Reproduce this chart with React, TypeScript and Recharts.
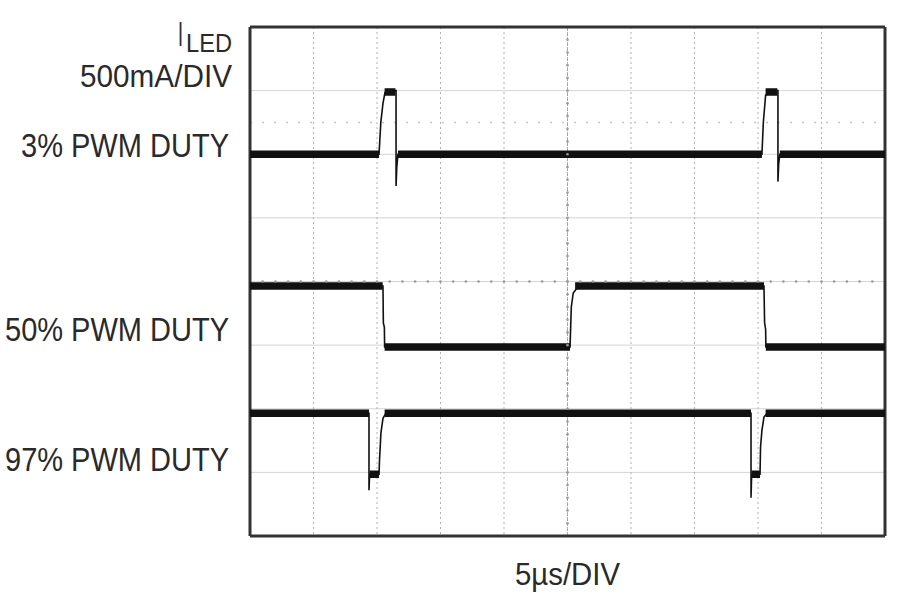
import { LineChart, Line, XAxis, YAxis, CartesianGrid, ReferenceLine, ReferenceDot } from "recharts";

// time in µs (5µs/DIV, 10 divisions), amplitude in screen divisions (8 divisions)
const timeTicks = [0, 5, 10, 15, 20, 25, 30, 35, 40, 45, 50];
const divTicks = [0, 1, 2, 3, 4, 5, 6, 7, 8];

// thin trace (edges + levels)
const threePctWave = [
  [0, 6], [10.16, 6], [10.3, 6.5], [10.47, 6.8], [10.63, 6.97], [11.45, 7.0],
  [11.5, 7.0], [11.5, 5.5], [11.56, 5.8], [11.65, 6], [40.31, 6], [40.42, 6.5],
  [40.6, 6.93], [41.5, 7.0], [41.57, 7.0], [41.57, 5.57], [41.63, 5.85], [41.72, 6], [50, 6],
];
const fiftyPctWave = [
  [0, 3.93], [10.47, 3.93], [10.5, 3.35], [10.58, 3.28], [10.6, 2.97], [25.2, 2.97],
  [25.3, 3.6], [25.45, 3.82], [25.8, 3.91], [26.2, 3.93], [40.47, 3.93], [40.52, 3.35],
  [40.6, 3.25], [40.62, 2.97], [50, 2.97],
];
const ninetySevenWave = [
  [0, 1.93], [9.37, 1.93], [9.37, 0.72], [9.42, 0.97], [10.16, 0.97], [10.2, 1.2],
  [10.31, 1.62], [10.47, 1.85], [10.7, 1.93], [39.45, 1.93], [39.45, 0.6], [39.5, 0.97],
  [40.16, 0.97], [40.2, 1.4], [40.31, 1.66], [40.47, 1.87], [40.71, 1.93], [50, 1.93],
];

// noisy (thick) plateaus: [start µs, end µs, level]
const threePctFlat = [[0, 10.16, 6], [10.6, 11.45, 6.98], [11.65, 40.31, 6], [40.6, 41.52, 6.98], [41.72, 50, 6]];
const fiftyPctFlat = [[0, 10.45, 3.93], [10.6, 25.2, 2.97], [25.6, 40.47, 3.93], [40.62, 50, 2.97]];
const ninetySevenFlat = [[0, 9.37, 1.93], [9.42, 10.16, 0.97], [10.6, 39.45, 1.93], [39.5, 40.16, 0.97], [40.6, 50, 1.93]];

const groundMarker = 6.5;
const minorTimes = Array.from({ length: 49 }, (_, i) => i + 1);
const minorDivs = Array.from({ length: 39 }, (_, i) => Math.round((i + 1) * 0.2 * 10) / 10);

const toPoints = (pts: number[][]) => pts.map(([t, v]) => ({ t, v }));
const toSegments = (segs: number[][]) =>
  segs.flatMap(([a, b, v]) => [{ t: a, v }, { t: b, v }, { t: b, v: null }]);

const labels = [
  { text: "500mA/DIV", x: 232, y: 87, w: 152, size: 32 },
  { text: "3% PWM DUTY", x: 229, y: 157, w: 208, size: 34 },
  { text: "50% PWM DUTY", x: 229, y: 341, w: 224, size: 34 },
  { text: "97% PWM DUTY", x: 229, y: 471, w: 224, size: 34 },
];

const traceColor = "#111";
const textColor = "#2a2a2a";
const font = "'Liberation Sans', Arial, sans-serif";

export default function App() {
  return (
    <div style={{ position: "absolute", left: 0, top: 0, width: 900, height: 601, background: "#fff" }}>
      <LineChart width={900} height={601} margin={{ top: 27, right: 15, bottom: 65, left: 250 }}>
        <XAxis type="number" dataKey="t" domain={[0, 50]} ticks={timeTicks} hide allowDuplicatedCategory={false} />
        <YAxis type="number" domain={[0, 8]} ticks={divTicks} hide />
        <CartesianGrid vertical={false} stroke="#d4d4d4" />
        <CartesianGrid horizontal={false} stroke="#b0b0b0" strokeDasharray="2 3" />
        <ReferenceLine y={groundMarker} stroke="#c4c4c4" strokeDasharray="2 10" strokeWidth={1.5} />
        <ReferenceLine x={25} stroke="#a0a0a0" strokeDasharray="2 3" />
        {minorTimes.map((t) => (
          <ReferenceDot key={"mt" + t} x={t} y={4} r={1.3} fill="#999" stroke="none" />
        ))}
        {minorDivs.map((d) => (
          <ReferenceDot key={"md" + d} x={25} y={d} r={1.3} fill="#999" stroke="none" />
        ))}
        <ReferenceLine x={0} stroke="#333" strokeWidth={3} />
        <ReferenceLine x={50} stroke="#333" strokeWidth={3} />
        <ReferenceLine y={0} stroke="#333" strokeWidth={3} />
        <ReferenceLine y={8} stroke="#333" strokeWidth={3} />

        <Line data={toPoints(threePctWave)} dataKey="v" stroke={traceColor} strokeWidth={1.6} dot={false} isAnimationActive={false} type="linear" />
        <Line data={toPoints(fiftyPctWave)} dataKey="v" stroke={traceColor} strokeWidth={1.6} dot={false} isAnimationActive={false} type="linear" />
        <Line data={toPoints(ninetySevenWave)} dataKey="v" stroke={traceColor} strokeWidth={1.6} dot={false} isAnimationActive={false} type="linear" />
        <Line data={toSegments(threePctFlat)} dataKey="v" stroke={traceColor} strokeWidth={7.5} dot={false} isAnimationActive={false} type="linear" />
        <Line data={toSegments(fiftyPctFlat)} dataKey="v" stroke={traceColor} strokeWidth={7.5} dot={false} isAnimationActive={false} type="linear" />
        <Line data={toSegments(ninetySevenFlat)} dataKey="v" stroke={traceColor} strokeWidth={7.5} dot={false} isAnimationActive={false} type="linear" />
      </LineChart>
      <svg width={900} height={601} style={{ position: "absolute", left: 0, top: 0, pointerEvents: "none" }}>
        <text x={178} y={46} fontFamily={font} fontSize={35} fill={textColor} textLength={5} lengthAdjust="spacingAndGlyphs">I</text>
        <text x={232} y={52} fontFamily={font} fontSize={25} fill={textColor} textAnchor="end" textLength={46} lengthAdjust="spacingAndGlyphs">LED</text>
        {labels.map((l) => (
          <text key={l.text} x={l.x - l.w} y={l.y} fontFamily={font} fontSize={l.size} fill={textColor} textLength={l.w} lengthAdjust="spacingAndGlyphs">
            {l.text}
          </text>
        ))}
        <text x={515} y={585} fontFamily={font} fontSize={32} fill={textColor} textLength={105} lengthAdjust="spacingAndGlyphs">5µs/DIV</text>
      </svg>
    </div>
  );
}
